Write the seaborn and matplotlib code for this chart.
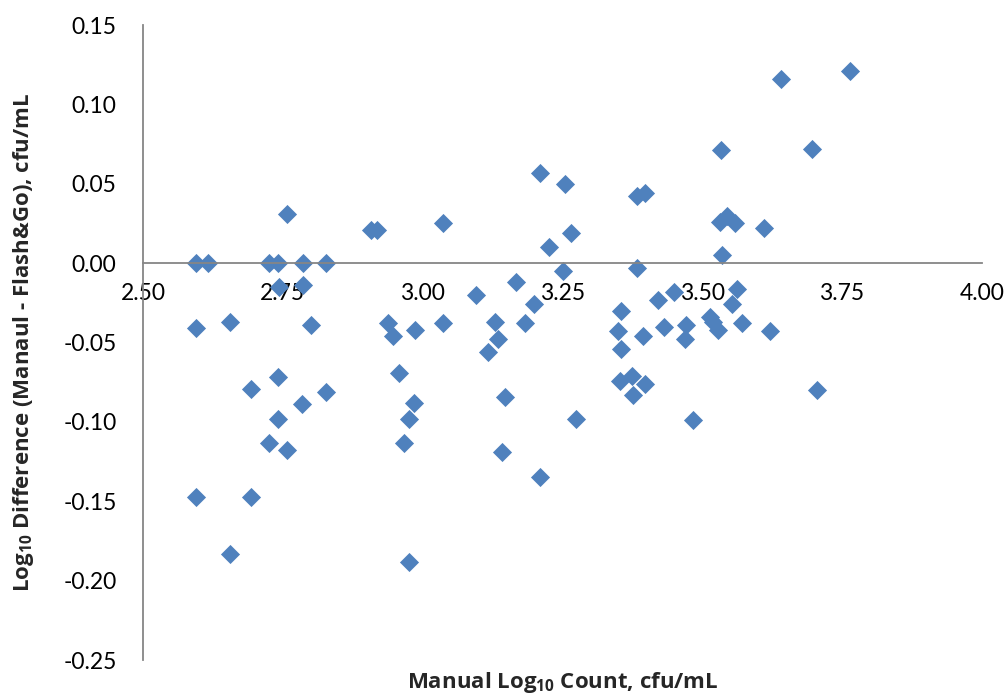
import matplotlib
matplotlib.use("Agg")
import matplotlib.pyplot as plt
import seaborn as sns
import pandas as pd

# Values
manual_count = [
    2.595, 2.616, 2.725, 2.742, 2.786, 2.827,
    2.757, 2.908, 2.919, 3.037, 2.743, 2.786,
    2.595, 2.656, 2.800, 2.938, 2.947, 2.987, 3.037,
    2.958, 2.693, 2.742, 2.827, 2.784, 2.742,
    2.725, 2.757, 2.985, 2.976, 2.967,
    2.595, 2.693, 2.656, 2.976,
    3.210, 3.255, 3.266, 3.226, 3.251,
    3.167, 3.096, 3.199, 3.130, 3.183,
    3.134, 3.117, 3.148, 3.275, 3.142, 3.210,
    3.384, 3.384, 3.398,
    3.534, 3.532, 3.545, 3.559, 3.611, 3.535,
    3.640, 3.765, 3.697,
    3.355, 3.421, 3.450, 3.563, 3.554,
    3.350, 3.355, 3.394, 3.432, 3.471, 3.470,
    3.514, 3.520, 3.529, 3.571, 3.622,
    3.353, 3.375, 3.398, 3.377,
    3.484, 3.706,
]
log_diff = [
    0.000, 0.000, 0.000, 0.000, 0.000, 0.000,
    0.031, 0.021, 0.021, 0.025, -0.015, -0.014,
    -0.041, -0.037, -0.039, -0.038, -0.046, -0.042, -0.038,
    -0.069, -0.079, -0.072, -0.081, -0.089, -0.098,
    -0.113, -0.118, -0.088, -0.098, -0.113,
    -0.147, -0.147, -0.183, -0.188,
    0.057, 0.050, 0.019, 0.010, -0.005,
    -0.012, -0.020, -0.026, -0.037, -0.038,
    -0.048, -0.056, -0.084, -0.098, -0.119, -0.135,
    -0.003, 0.042, 0.044,
    0.071, 0.026, 0.030, 0.025, 0.022, 0.005,
    0.116, 0.121, 0.072,
    -0.030, -0.023, -0.018, -0.016, -0.026,
    -0.043, -0.054, -0.046, -0.040, -0.039, -0.048,
    -0.034, -0.037, -0.042, -0.038, -0.043,
    -0.074, -0.071, -0.076, -0.083,
    -0.099, -0.080,
]
x_ticks = [2.50, 2.75, 3.00, 3.25, 3.50, 3.75, 4.00]
y_ticks = [0.15, 0.10, 0.05, 0.00, -0.05, -0.10, -0.15, -0.20, -0.25]

df = pd.DataFrame({"manual": manual_count, "diff": log_diff})

sns.set_theme(style="white")
plt.rcParams["font.family"] = ["Lato", "DejaVu Sans"]
plt.rcParams["mathtext.fontset"] = "custom"
plt.rcParams["mathtext.rm"] = "Open Sans"
plt.rcParams["mathtext.bf"] = "Open Sans:bold"
plt.rcParams["mathtext.default"] = "bf"

axis_grey = "#868686"
label_font = ["Open Sans", "DejaVu Sans"]

fig = plt.figure(figsize=(10.07, 6.96), dpi=100)
ax = fig.add_axes([0.142, 0.0517, 0.833, 0.9123])

sns.scatterplot(
    data=df,
    x="manual",
    y="diff",
    marker="D",
    s=95,
    color="#4F81BD",
    linewidth=0,
    ax=ax,
)

ax.set_xlim(2.5, 4.0)
ax.set_ylim(-0.25, 0.15)
ax.set_xticks(x_ticks)
ax.set_yticks(y_ticks)
ax.set_xticklabels([f"{t:.2f}" for t in x_ticks])
ax.set_yticklabels([f"{t:.2f}" for t in y_ticks])

# x axis crosses at y = 0
ax.spines["bottom"].set_position(("data", 0))
ax.spines["top"].set_visible(False)
ax.spines["right"].set_visible(False)
for side in ["left", "bottom"]:
    ax.spines[side].set_color(axis_grey)
    ax.spines[side].set_linewidth(1.3)

ax.tick_params(axis="both", direction="out", length=6, width=1.3,
               color=axis_grey, labelsize=16.5, labelcolor="black")
ax.tick_params(axis="x", pad=8)
ax.tick_params(axis="y", pad=13)

ax.set_xlabel("Manual Log$_{10}$ Count, cfu/mL", fontsize=16,
              fontweight="bold", family=label_font, va="center")
ax.xaxis.set_label_coords(0.5, -0.036)
ax.set_ylabel("Log$_{10}$ Difference (Manaul - Flash&Go), cfu/mL",
              fontsize=16, fontweight="bold", family=label_font, va="center")
ax.yaxis.set_label_coords(-0.143, 0.5)

fig.savefig("out.png", dpi=100)
